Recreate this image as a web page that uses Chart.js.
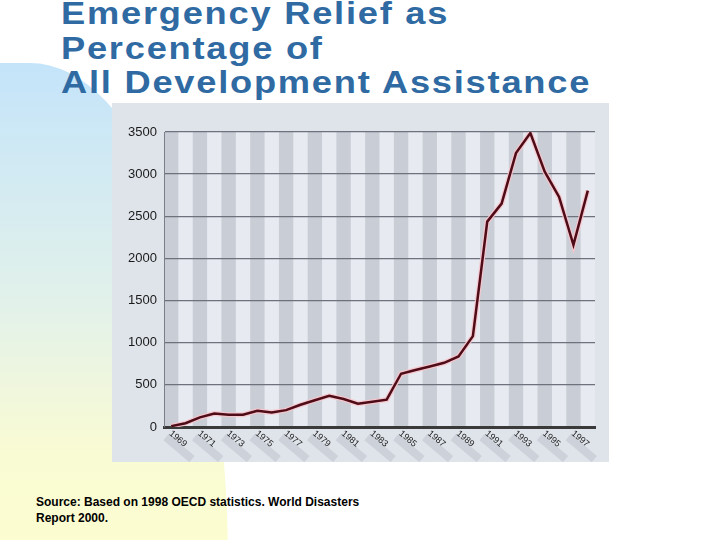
<!DOCTYPE html>
<html lang="en">
<head>
<meta charset="UTF-8">
<title>Emergency Relief as Percentage of All Development Assistance</title>
<script src="https://cdn.jsdelivr.net/npm/chart.js"></script>
<style>
  html, body { margin: 0; padding: 0; }
  body {
    width: 720px; height: 540px; position: relative; overflow: hidden;
    background: #ffffff; font-family: "Liberation Sans", Arial, sans-serif;
  }
  /* blue-to-yellow slide decoration on the left */
  #swoosh {
    position: absolute; left: 0; top: 63px; width: 228px; height: 600px;
    border-top-right-radius: 198px 500px;
    background: linear-gradient(to bottom, #c4e4fa 0%, #e2f1ea 40%, #f9fbd3 65%, #ffffcc 100%);
  }
  #title {
    position: absolute; left: 61px; top: -3px;
    font: bold 31px/34.5px "Liberation Sans", Arial, sans-serif;
    letter-spacing: 1.5px; color: #2f6aa3; white-space: nowrap;
    transform: scaleX(1.17); transform-origin: 0 0;
  }
  #chartBox {
    position: absolute; left: 112px; top: 103px; width: 497px; height: 359px;
    background: #dfe3ea;
  }
  #source {
    position: absolute; left: 36px; top: 494px;
    font: bold 12px/16px "Liberation Sans", Arial, sans-serif; color: #000;
  }
</style>
</head>
<body>
  <div id="swoosh"></div>
  <div id="title">Emergency Relief as<br>Percentage of<br>All Development Assistance</div>
  <div id="chartBox"><canvas id="chart" width="497" height="359"></canvas></div>
  <div id="source">Source: Based on 1998 OECD statistics. World Disasters<br>Report 2000.</div>

<script>
  // data
  var years = ['1969', '1970', '1971', '1972', '1973', '1974', '1975', '1976', '1977', '1978',
               '1979', '1980', '1981', '1982', '1983', '1984', '1985', '1986', '1987', '1988',
               '1989', '1990', '1991', '1992', '1993', '1994', '1995', '1996', '1997', '1998'];
  var reliefValues = [10, 45, 114, 161, 146, 146, 193, 173, 200, 264,
                      318, 371, 332, 276, 300, 324, 632, 676, 718, 762,
                      837, 1078, 2437, 2650, 3250, 3488, 3030, 2730, 2160, 2804];
  var yTicks = [0, 500, 1000, 1500, 2000, 2500, 3000, 3500];
  var yearLabels = ['1969', '1971', '1973', '1975', '1977', '1979', '1981', '1983',
                    '1985', '1987', '1989', '1991', '1993', '1995', '1997'];

  // alternating column stripes + label shadows, drawn before the grid
  var stripesPlugin = {
    id: 'stripes',
    beforeDraw: function (chart) {
      var ctx = chart.ctx;
      var area = chart.chartArea;
      var x = chart.scales.x;
      var w = x.getPixelForValue(1) - x.getPixelForValue(0);
      ctx.save();
      ctx.fillStyle = '#e7eaf0';
      ctx.fillRect(area.left, area.top, area.right - area.left, area.bottom - area.top);
      ctx.fillStyle = '#c9cdd5';
      yearLabels.forEach(function (label) {
        var px = x.getPixelForValue(years.indexOf(label));
        ctx.fillRect(px - w / 2, area.top, w, area.bottom - area.top);
      });
      // diagonal shadows under the year labels
      ctx.fillStyle = 'rgba(150, 156, 168, 0.25)';
      yearLabels.forEach(function (label) {
        var px = x.getPixelForValue(years.indexOf(label));
        ctx.save();
        ctx.translate(px - 1, area.bottom + 2);
        ctx.rotate(40 * Math.PI / 180);
        ctx.fillRect(2, 5, 34, 8);
        ctx.restore();
      });
      ctx.restore();
    },
    afterDraw: function (chart) {
      var ctx = chart.ctx;
      var area = chart.chartArea;
      var x = chart.scales.x;
      ctx.save();
      ctx.fillStyle = '#1e1e1e';
      ctx.font = '9px "Liberation Sans", Arial, sans-serif';
      ctx.textAlign = 'left';
      ctx.textBaseline = 'top';
      yearLabels.forEach(function (label) {
        var px = x.getPixelForValue(years.indexOf(label));
        ctx.save();
        ctx.translate(px + 2, area.bottom + 2);
        ctx.rotate(40 * Math.PI / 180);
        ctx.fillText(label, 0, 0);
        ctx.restore();
      });
      ctx.restore();
    }
  };

  var ctx = document.getElementById('chart').getContext('2d');
  var chart = new Chart(ctx, {
    type: 'line',
    data: {
      labels: years,
      datasets: [{
        label: 'Emergency relief',
        data: reliefValues,
        borderColor: '#4d0c17',
        borderWidth: 2.5,
        pointRadius: 0,
        tension: 0,
        fill: false
      }, {
        label: 'glow',
        data: reliefValues,
        borderColor: 'rgba(248, 196, 204, 0.9)',
        borderWidth: 5,
        pointRadius: 0,
        tension: 0,
        fill: false
      }]
    },
    options: {
      responsive: false,
      animation: false,
      layout: { padding: { top: 29, right: 14, bottom: 0, left: 0 } },
      plugins: {
        legend: { display: false },
        tooltip: { enabled: false }
      },
      scales: {
        x: {
          type: 'category',
          offset: true,
          grid: { display: false },
          border: { display: true, color: '#3a3a3a', width: 3 },
          ticks: { display: false },
          afterFit: function (scale) { scale.height = 35; }
        },
        y: {
          min: 0,
          max: 3500,
          afterBuildTicks: function (scale) {
            scale.ticks = yTicks.map(function (v) { return { value: v }; });
          },
          grid: { color: '#6e727c', lineWidth: 1.3, drawTicks: false },
          border: { display: true, color: '#7a7e88', width: 1 },
          ticks: {
            color: '#1a1a1a',
            padding: 7,
            font: { family: '"Liberation Sans", Arial, sans-serif', size: 13 },
            callback: function (value) { return String(value); }
          },
          afterFit: function (scale) { scale.width = 52; }
        }
      }
    },
    plugins: [stripesPlugin]
  });
</script>
</body>
</html>
